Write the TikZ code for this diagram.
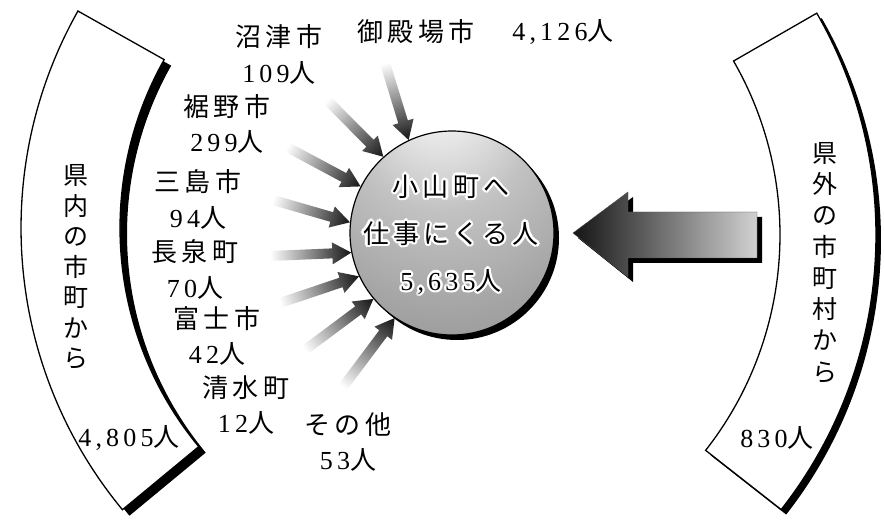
\documentclass[tikz,border=0pt]{standalone}
\usepackage{fontspec}
\setmainfont[LetterSpace=16]{Liberation Serif}
\newfontfamily\cjk[LetterSpace=16]{Noto Sans CJK JP}
\newcommand\J[1]{{\cjk #1}}
\newcommand\balltxt{\J{小山町へ}\\\J{仕事にくる人}\\5,635\J{人}}
\pgfdeclareradialshading{ballsh}{\pgfpoint{-3bp}{36bp}}{%
 color(0bp)=(white); color(8bp)=(white!92!black); color(22bp)=(white!76!black);
 color(40bp)=(white!64!black); color(60bp)=(white!54!black); color(75bp)=(white!46!black);
 color(90bp)=(white!42!black)}
\newcommand\garrow[2]{%
 \pgfpointdiff{\pgfpointanchor{#1}{center}}{\pgfpointanchor{ball}{#2}}%
 \pgfgetlastxy\gdx\gdy
 \pgfmathsetmacro\gang{atan2(\gdy,\gdx)}%
 \pgfmathsetmacro\glen{veclen(\gdx,\gdy)}%
 \begin{scope}[transform canvas={shift={(ball.#2)},rotate=\gang}]
  \shade[left color=white,right color=black!92]
   (-\glen,-5) -- (-19,-5) -- (-19,-11) -- (0,0) -- (-19,11) -- (-19,5) -- (-\glen,5) -- cycle;
 \end{scope}}
\begin{document}
\begin{tikzpicture}[x=1pt,y=1pt,
  lbl/.style={align=center,font=\fontsize{26}{35.5}\selectfont,inner sep=0pt},
  vlbl/.style={align=center,font=\cjk\fontsize{25}{30.5}\selectfont,inner sep=0pt},
  balllbl/.style={align=center,font=\fontsize{26}{47}\selectfont,inner sep=0pt},
  band/.style={draw=black,line width=1.3pt,fill=white},
  bandshadow/.style={fill=black}]
\useasboundingbox (0,0) rectangle (884,523);

% left band
\begin{scope}[shift={(463,295)}]
 \fill[bandshadow,shift={(7,-6)}] (150.6:442) arc[start angle=150.6,end angle=219.6,radius=442]
   -- (219.6:343) arc[start angle=219.6,end angle=150.6,radius=343] -- cycle;
 \draw[band] (150.6:442) arc[start angle=150.6,end angle=219.6,radius=442]
   -- (219.6:343) arc[start angle=219.6,end angle=150.6,radius=343] -- cycle;
\end{scope}
% right band
\begin{scope}[shift={(431,288)}]
 \fill[bandshadow,shift={(5,-5)}] (29.9:445) arc[start angle=29.9,end angle=-38.1,radius=445]
   -- (-38.1:349) arc[start angle=-38.1,end angle=29.9,radius=349] -- cycle;
 \draw[band] (29.9:445) arc[start angle=29.9,end angle=-38.1,radius=445]
   -- (-38.1:349) arc[start angle=-38.1,end angle=29.9,radius=349] -- cycle;
\end{scope}

% big arrow
\fill[black] (578,285) -- (633,326) -- (633,306) -- (762,306) -- (762,260) -- (633,260) -- (633,241) -- cycle;
\shade[left color=black!92,right color=black!18,draw=black!70,line width=0.4pt]
  (573,290) -- (628,331) -- (628,311) -- (757,311) -- (757,265) -- (628,265) -- (628,246) -- cycle;

% ball
\coordinate (bc) at (452,290);
\fill[black] ([shift={(5,-5)}]bc) circle[radius=102];
\node[circle,minimum size=204pt,inner sep=0pt,shading=ballsh,draw=black,line width=1.2pt] (ball) at (bc) {};
\foreach \a in {0,30,...,330}
  \node[balllbl,text=white] at ([shift={(\a:2.3)}]451,288.5) {\balltxt};
\node[balllbl] (balltext) at (451,288.5) {\balltxt};

% small arrows
\coordinate (t1) at (385,460);
\coordinate (t2) at (327,423);
\coordinate (t3) at (287,376);
\coordinate (t4) at (273,323);
\coordinate (t5) at (270,267);
\coordinate (t6) at (280,220);
\coordinate (t7) at (305,173);
\coordinate (t8) at (343,136);
\garrow{t1}{115}
\garrow{t2}{132.6}
\garrow{t3}{153.9}
\garrow{t4}{174.4}
\garrow{t5}{191.3}
\garrow{t6}{205.6}
\garrow{t7}{220.8}
\garrow{t8}{236.8}

% labels
\node[lbl] (gotemba) at (416,491) {\J{御殿場市}};
\node[lbl] (gotembanum) at (563,491) {4,126\J{人}};
\node[lbl] (numazu) at (279,468.5) {\J{沼津市}\\109\J{人}};
\node[lbl] (susono) at (227,399) {\J{裾野市}\\299\J{人}};
\node[lbl] (mishima) at (198,323.5) {\J{三島市}\\94\J{人}};
\node[lbl] (nagaizumi) at (195,253.5) {\J{長泉町}\\70\J{人}};
\node[lbl] (fuji) at (217,187) {\J{富士市}\\42\J{人}};
\node[lbl] (shimizu) at (246,118) {\J{清水町}\\12\J{人}};
\node[lbl] (other) at (348,81) {\J{その他}\\53\J{人}};
\node[vlbl] (inpref) at (76,256) {県\\内\\の\\市\\町\\か\\ら};
\node[vlbl,font=\cjk\fontsize{25}{31.3}\selectfont] (outpref) at (825,260.5) {県\\外\\の\\市\\町\\村\\か\\ら};
\node[lbl] (intotal) at (129,85) {4,805\J{人}};
\node[lbl] (outtotal) at (777,85) {830\J{人}};
\end{tikzpicture}
\end{document}
